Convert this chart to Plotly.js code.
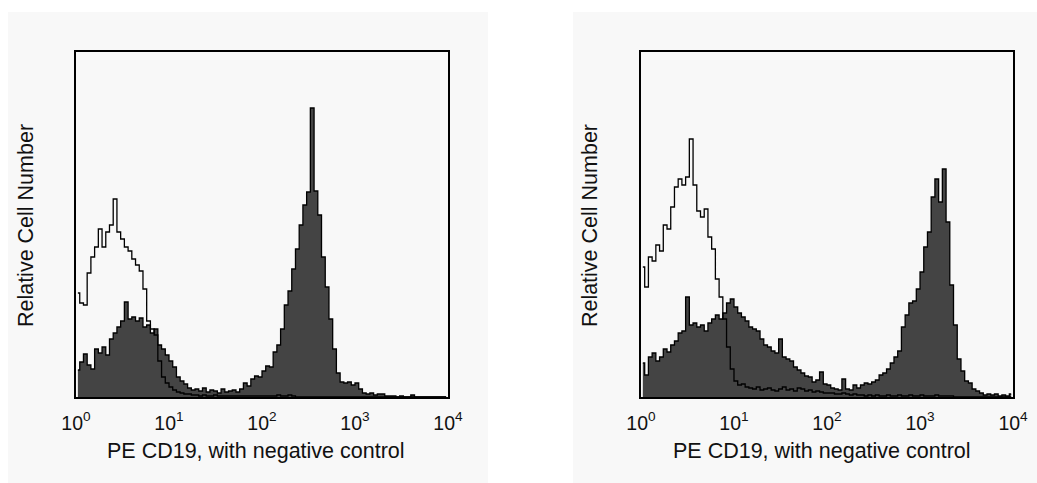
<!DOCTYPE html>
<html>
<head>
<meta charset="utf-8">
<script src="https://cdn.plot.ly/plotly-3.0.1.min.js"></script>
<style>html,body{margin:0;padding:0;background:#fff;}#chart{width:1037px;height:483px;}</style>
</head>
<body>
<div id="chart"></div>
<script>
// Bin centres (log10 of PE intensity)
const binLog = [0.02,0.06,0.10,0.14,0.18,0.22,0.26,0.30,0.34,0.38,0.42,0.46,0.50,0.54,0.58,0.62,0.66,0.70,0.74,0.78,0.82,0.86,0.90,0.94,0.98,1.02,1.06,1.10,1.14,1.18,1.22,1.26,1.30,1.34,1.38,1.42,1.46,1.50,1.54,1.58,1.62,1.66,1.70,1.74,1.78,1.82,1.86,1.90,1.94,1.98,2.02,2.06,2.10,2.14,2.18,2.22,2.26,2.30,2.34,2.38,2.42,2.46,2.50,2.54,2.58,2.62,2.66,2.70,2.74,2.78,2.82,2.86,2.90,2.94,2.98,3.02,3.06,3.10,3.14,3.18,3.22,3.26,3.30,3.34,3.38,3.42,3.46,3.50,3.54,3.58,3.62,3.66,3.70,3.74,3.78,3.82,3.86,3.90,3.94,3.98];

// Panel 1: PE CD19 stained (filled) and negative control (open)
const cd19Left = [27,35,43,32,28,48,44,50,42,58,
  64,70,76,95,78,80,76,79,70,72,
  64,68,52,48,42,36,30,20,16,13,
  9,7,8,6,9,5,7,6,4,8,
  5,6,7,5,8,14,11,18,21,20,
  26,31,30,45,52,68,92,106,128,148,
  172,192,205,289,206,182,140,110,78,48,
  24,15,14,15,12,14,8,4,3,4,
  2,3,3,1,1,1,0,1,0,0,
  2,0,0,0,0,0,0,0,0,0];
const controlLeft = [104,94,92,124,140,150,168,150,165,172,
  198,165,158,150,146,138,132,126,108,76,
  68,62,36,20,14,10,7,5,4,3,
  3,2,2,1,2,1,1,2,1,1,
  1,1,1,1,1,1,1,1,1,1,
  1,1,1,1,2,1,1,2,1,0,
  0,0,0,0,0,0,0,0,0,0,
  0,0,0,0,0,0,0,0,0,0,
  0,0,0,0,0,0,0,0,0,0,
  0,0,0,0,0,0,0,0,0,0];

// Panel 2
const cd19Right = [34,22,40,44,36,40,48,45,52,56,
  64,66,100,72,74,70,72,66,74,78,
  82,78,84,94,98,90,84,80,76,70,
  68,66,58,52,50,46,44,58,40,38,
  36,30,27,24,21,20,15,17,25,13,
  12,9,8,7,18,8,7,12,9,12,
  14,13,15,17,22,24,28,34,40,46,
  70,82,94,96,108,125,150,165,200,218,
  195,228,175,112,72,38,26,16,14,8,
  6,4,2,3,2,3,1,2,1,3];
const controlRight = [130,110,140,136,152,146,172,168,190,210,
  218,212,220,258,212,186,180,188,160,148,
  118,100,78,50,28,16,12,13,10,9,
  8,10,7,8,9,7,6,8,10,7,
  8,6,9,8,6,7,5,6,5,4,
  4,4,3,3,4,3,2,3,2,2,
  1,2,1,2,1,1,2,1,1,2,
  1,1,2,1,1,2,1,1,1,2,
  1,1,1,1,0,0,0,0,0,0,
  0,0,0,0,0,0,0,0,0,0];

const tickVals = [1,10,100,1000,10000];
const tickText = ['10<sup>0</sup>','10<sup>1</sup>','10<sup>2</sup>','10<sup>3</sup>','10<sup>4</sup>'];
const xTitle = 'PE CD19, with negative control';
const yTitle = 'Relative Cell Number';

const xs = binLog.map(e => Math.pow(10, e));
function tr(y, xa, ya, filled){
  return {x: xs, y: y, xaxis: xa, yaxis: ya, type:'scatter', mode:'lines',
    line:{shape:'hvh', color:'#000', width: 1.3},
    fill: filled ? 'tozeroy' : 'none', fillcolor:'#444', hoverinfo:'skip'};
}
const data = [
  tr(cd19Left,'x','y',true), tr(controlLeft,'x','y',false),
  tr(cd19Right,'x2','y2',true), tr(controlRight,'x2','y2',false)
];
const font = {family:'Liberation Sans, Arial, sans-serif', color:'#111'};
function xax(dom, anchor){
  return {type:'log', domain:dom, range:[0,4], anchor:anchor, tickvals:tickVals, ticktext:tickText,
    showline:true, mirror:true, linecolor:'#000', linewidth:2.2, ticks:'outside', ticklen:7, tickcolor:'rgba(0,0,0,0)',
    showgrid:false, zeroline:false, tickfont:Object.assign({size:19.5}, font), fixedrange:true};
}
function yax(anchor){
  return {domain:[0.1781,0.8923], range:[0,345], anchor:anchor, showticklabels:false, ticks:'',
    showline:true, mirror:true, linecolor:'#000', linewidth:2.2, showgrid:false, zeroline:false, fixedrange:true};
}
const layout = {
  width:1037, height:483, margin:{l:0,r:0,t:0,b:0}, showlegend:false,
  paper_bgcolor:'#ffffff', plot_bgcolor:'rgba(0,0,0,0)',
  xaxis: xax([0.0733,0.4320],'y'), yaxis: yax('x'),
  xaxis2: xax([0.6181,0.9769],'y2'), yaxis2: yax('x2'),
  shapes:[
    {type:'rect', xref:'paper', yref:'paper', x0:0.0077, x1:0.4706, y0:0, y1:0.9752, fillcolor:'#f8f8f8', line:{width:0}, layer:'below'},
    {type:'rect', xref:'paper', yref:'paper', x0:0.5526, x1:1, y0:0, y1:0.9752, fillcolor:'#f8f8f8', line:{width:0}, layer:'below'}
  ],
  annotations:[
    {text:xTitle, xref:'paper', yref:'paper', x:0.2464, y:0.0663, showarrow:false, xanchor:'center', yanchor:'middle', font:Object.assign({size:21.5}, font)},
    {text:xTitle, xref:'paper', yref:'paper', x:0.7922, y:0.0663, showarrow:false, xanchor:'center', yanchor:'middle', font:Object.assign({size:21.5}, font)},
    {text:yTitle, xref:'paper', yref:'paper', x:0.0251, y:0.532, showarrow:false, textangle:-90, xanchor:'center', yanchor:'middle', font:Object.assign({size:21.5}, font)},
    {text:yTitle, xref:'paper', yref:'paper', x:0.569, y:0.532, showarrow:false, textangle:-90, xanchor:'center', yanchor:'middle', font:Object.assign({size:21.5}, font)}
  ]
};
Plotly.newPlot('chart', data, layout, {staticPlot:true, displayModeBar:false});
</script>
</body>
</html>
